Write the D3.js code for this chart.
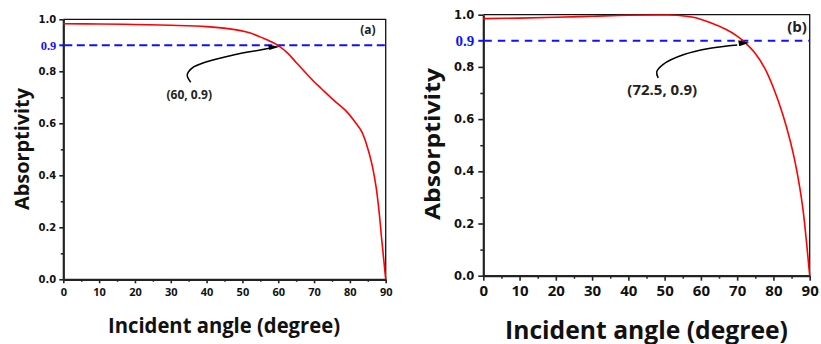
<!DOCTYPE html>
<html>
<head>
<meta charset="utf-8">
<script src="https://cdn.jsdelivr.net/npm/d3@7"></script>
<style>
  body { margin: 0; background: #fff; }
  svg { display: block; }
</style>
</head>
<body>
<svg id="chart" width="821" height="344"></svg>
<script>
'use strict';

// panel (a)
var anglesA = [0, 10, 20, 30, 40, 46, 52, 56, 58, 60, 62.5, 65, 70, 72, 75.4, 79.1, 81.4, 83.3, 84.7, 86.1, 87.3, 88.2, 88.9, 89.5, 90];
var absorbA = [0.983, 0.982, 0.980, 0.977, 0.972, 0.964, 0.948, 0.926, 0.914, 0.899, 0.872, 0.834, 0.760, 0.734, 0.690, 0.645, 0.606, 0.568, 0.517, 0.446, 0.356, 0.254, 0.151, 0.07, 0];

// panel (b)
var anglesB = [0, 10, 20, 30, 40, 50, 53.3, 57.9, 62.5, 67, 70, 72.2, 74.9, 77.7, 80.4, 82.7, 84.6, 85.9, 87.3, 88.2, 89.0, 90];
var absorbB = [0.985, 0.987, 0.990, 0.994, 0.998, 0.999, 0.998, 0.990, 0.970, 0.943, 0.918, 0.893, 0.853, 0.792, 0.705, 0.612, 0.518, 0.440, 0.335, 0.248, 0.145, 0];

var xTicks = [0, 10, 20, 30, 40, 50, 60, 70, 80, 90];
var xMinor = [5, 15, 25, 35, 45, 55, 65, 75, 85];
var yTicks = [0, 0.2, 0.4, 0.6, 0.8, 1.0];
var yMinor = [0.1, 0.3, 0.5, 0.7];
var threshold = 0.9;
var pointA = [60, 0.9], labelA = '(60, 0.9)', tagA = '(a)';
var pointB = [72.5, 0.9], labelB = '(72.5, 0.9)', tagB = '(b)';

var svg = d3.select('#chart');
svg.append('rect').attr('width', 821).attr('height', 344).attr('fill', '#fff');

function drawPanel(p) {
  var x = d3.scaleLinear().domain([0, 90]).range([p.left, p.right]);
  var y = d3.scaleLinear().domain([0, 1]).range([p.bottom, p.top]);
  var g = svg.append('g');

  // top / right frame
  g.append('path')
    .attr('d', 'M' + p.left + ',' + p.top + 'H' + p.right + 'V' + p.bottom)
    .attr('fill', 'none').attr('stroke', '#111').attr('stroke-width', 1.3);

  // minor ticks
  g.append('g').attr('transform', 'translate(0,' + p.bottom + ')')
    .call(d3.axisBottom(x).tickValues(xMinor).tickSize(p.minor).tickFormat(''))
    .call(function (s) { s.select('.domain').remove(); s.selectAll('line').attr('stroke', '#222').attr('stroke-width', 1.5); });
  g.append('g').attr('transform', 'translate(' + p.left + ',0)')
    .call(d3.axisLeft(y).tickValues(yMinor).tickSize(p.minor).tickFormat(''))
    .call(function (s) { s.select('.domain').remove(); s.selectAll('line').attr('stroke', '#222').attr('stroke-width', 1.5); });

  // bottom axis
  var xa = g.append('g').attr('transform', 'translate(0,' + p.bottom + ')')
    .call(d3.axisBottom(x).tickValues(xTicks).tickSize(p.major).tickSizeOuter(0).tickPadding(p.xPad).tickFormat(d3.format('d')));
  xa.select('.domain').attr('stroke', '#222').attr('stroke-width', 2.2);
  xa.selectAll('line').attr('stroke', '#222').attr('stroke-width', 1.6);
  xa.selectAll('text').attr('fill', '#111')
    .style('font-family', '"Open Sans", sans-serif').style('font-weight', 700).style('font-size', p.xTickFont + 'px');

  // left axis
  var ya = g.append('g').attr('transform', 'translate(' + p.left + ',0)')
    .call(d3.axisLeft(y).tickValues(yTicks).tickSize(p.major).tickSizeOuter(0).tickPadding(p.yPad).tickFormat(d3.format('.1f')));
  ya.select('.domain').attr('stroke', '#222').attr('stroke-width', 2.2);
  ya.selectAll('line').attr('stroke', '#222').attr('stroke-width', 1.6);
  ya.selectAll('text').attr('fill', '#111')
    .style('font-family', '"DejaVu Sans", sans-serif').style('font-weight', 700).style('font-size', p.yTickFont + 'px');

  // threshold line + blue label
  g.append('line')
    .attr('x1', p.left - p.major).attr('x2', p.left)
    .attr('y1', y(threshold)).attr('y2', y(threshold))
    .attr('stroke', '#1010ff').attr('stroke-width', 2);
  g.append('line')
    .attr('x1', p.left + 1).attr('x2', p.right)
    .attr('y1', y(threshold)).attr('y2', y(threshold))
    .attr('stroke', '#1010ff').attr('stroke-width', 2)
    .attr('stroke-dasharray', p.dash);
  g.append('text')
    .attr('x', p.left - p.major - p.yPad).attr('y', y(threshold)).attr('dy', '0.34em')
    .attr('text-anchor', 'end').attr('fill', '#1010ff')
    .style('font-family', '"Liberation Serif", serif').style('font-weight', 700)
    .style('font-size', p.blueFont + 'px')
    .text(d3.format('.1f')(threshold));

  // curve
  var pts = d3.zip(p.angles, p.values);
  g.append('path').datum(pts)
    .attr('fill', 'none').attr('stroke', '#ff0000').attr('stroke-width', 1.6)
    .attr('d', d3.line().x(function (d) { return x(d[0]); }).y(function (d) { return y(d[1]); }).curve(d3.curveCatmullRom.alpha(0.5)));

  // annotation arrow
  var px = x(p.point[0]), py = y(p.point[1]);
  g.append('path').datum(p.hook)
    .attr('fill', 'none').attr('stroke', '#000').attr('stroke-width', 1.5)
    .attr('d', d3.line().x(function (d) { return px + d[0]; }).y(function (d) { return py + d[1]; }).curve(d3.curveCatmullRom));
  g.append('path').datum(p.head)
    .attr('fill', '#000')
    .attr('d', d3.line().x(function (d) { return px + d[0]; }).y(function (d) { return py + d[1]; }).curve(d3.curveLinearClosed));
  g.append('text')
    .attr('x', px + p.labelDx).attr('y', py + p.labelDy)
    .attr('text-anchor', 'middle').attr('fill', '#222')
    .style('font-family', '"Open Sans", sans-serif').style('font-weight', 700).style('font-size', p.labelFont + 'px')
    .text(p.label);

  // panel tag
  g.append('text')
    .attr('x', p.tagX).attr('y', p.tagY).attr('text-anchor', 'middle').attr('fill', '#222')
    .style('font-family', '"Open Sans", sans-serif').style('font-weight', 700).style('font-size', p.tagFont + 'px')
    .text(p.tag);

  // axis titles
  g.append('text')
    .attr('x', p.xTitleX).attr('y', p.xTitleY).attr('text-anchor', 'middle').attr('fill', '#111')
    .attr('textLength', p.xTitleLen).attr('lengthAdjust', 'spacingAndGlyphs')
    .style('font-family', '"Open Sans", sans-serif').style('font-weight', 700).style('font-size', p.xTitleFont + 'px')
    .text('Incident angle (degree)');
  g.append('text')
    .attr('transform', 'translate(' + p.yTitleX + ',' + p.yTitleY + ') rotate(-90)')
    .attr('text-anchor', 'middle').attr('fill', '#111')
    .attr('textLength', p.yTitleLen).attr('lengthAdjust', 'spacingAndGlyphs')
    .style('font-family', '"Open Sans", sans-serif').style('font-weight', 700).style('font-size', p.yTitleFont + 'px')
    .text('Absorptivity');
}

drawPanel({
  left: 63.3, right: 385.7, top: 19.3, bottom: 279.3,
  major: 4, minor: 2.5, xPad: 5, yPad: 3,
  xTickFont: 11, yTickFont: 10, blueFont: 12.5, dash: '8,4.5',
  angles: anglesA, values: absorbA,
  point: pointA, label: labelA, labelFont: 12, labelDx: -89, labelDy: 54,
  hook: [[-87.5, 37], [-91, 29.7], [-86.5, 23], [-71.5, 16.4], [-45, 9.7], [-18, 4.7], [-9, 3]],
  head: [[-10, -0.6], [1.5, 1.4], [-9, 4.8]],
  tag: tagA, tagX: 368, tagY: 34, tagFont: 12,
  xTitleX: 224, xTitleY: 333, xTitleLen: 232, xTitleFont: 21,
  yTitleX: 29, yTitleY: 149, yTitleLen: 122, yTitleFont: 19
});

drawPanel({
  left: 483.3, right: 809.7, top: 14.7, bottom: 275.7,
  major: 5, minor: 3, xPad: 5, yPad: 4,
  xTickFont: 15, yTickFont: 11.5, blueFont: 15, dash: '7.5,6',
  angles: anglesB, values: absorbB,
  point: pointB, label: labelB, labelFont: 15, labelDx: -84, labelDy: 54.5,
  hook: [[-88, 37], [-89.5, 31], [-83, 23.5], [-63, 14], [-36, 7.5], [-9, 4.2]],
  head: [[-8, -0.5], [3, 2], [-7, 5.5]],
  tag: tagB, tagX: 797, tagY: 32, tagFont: 15,
  xTitleX: 646.5, xTitleY: 338.5, xTitleLen: 283, xTitleFont: 25,
  yTitleX: 440, yTitleY: 144, yTitleLen: 152, yTitleFont: 22
});
</script>
</body>
</html>
